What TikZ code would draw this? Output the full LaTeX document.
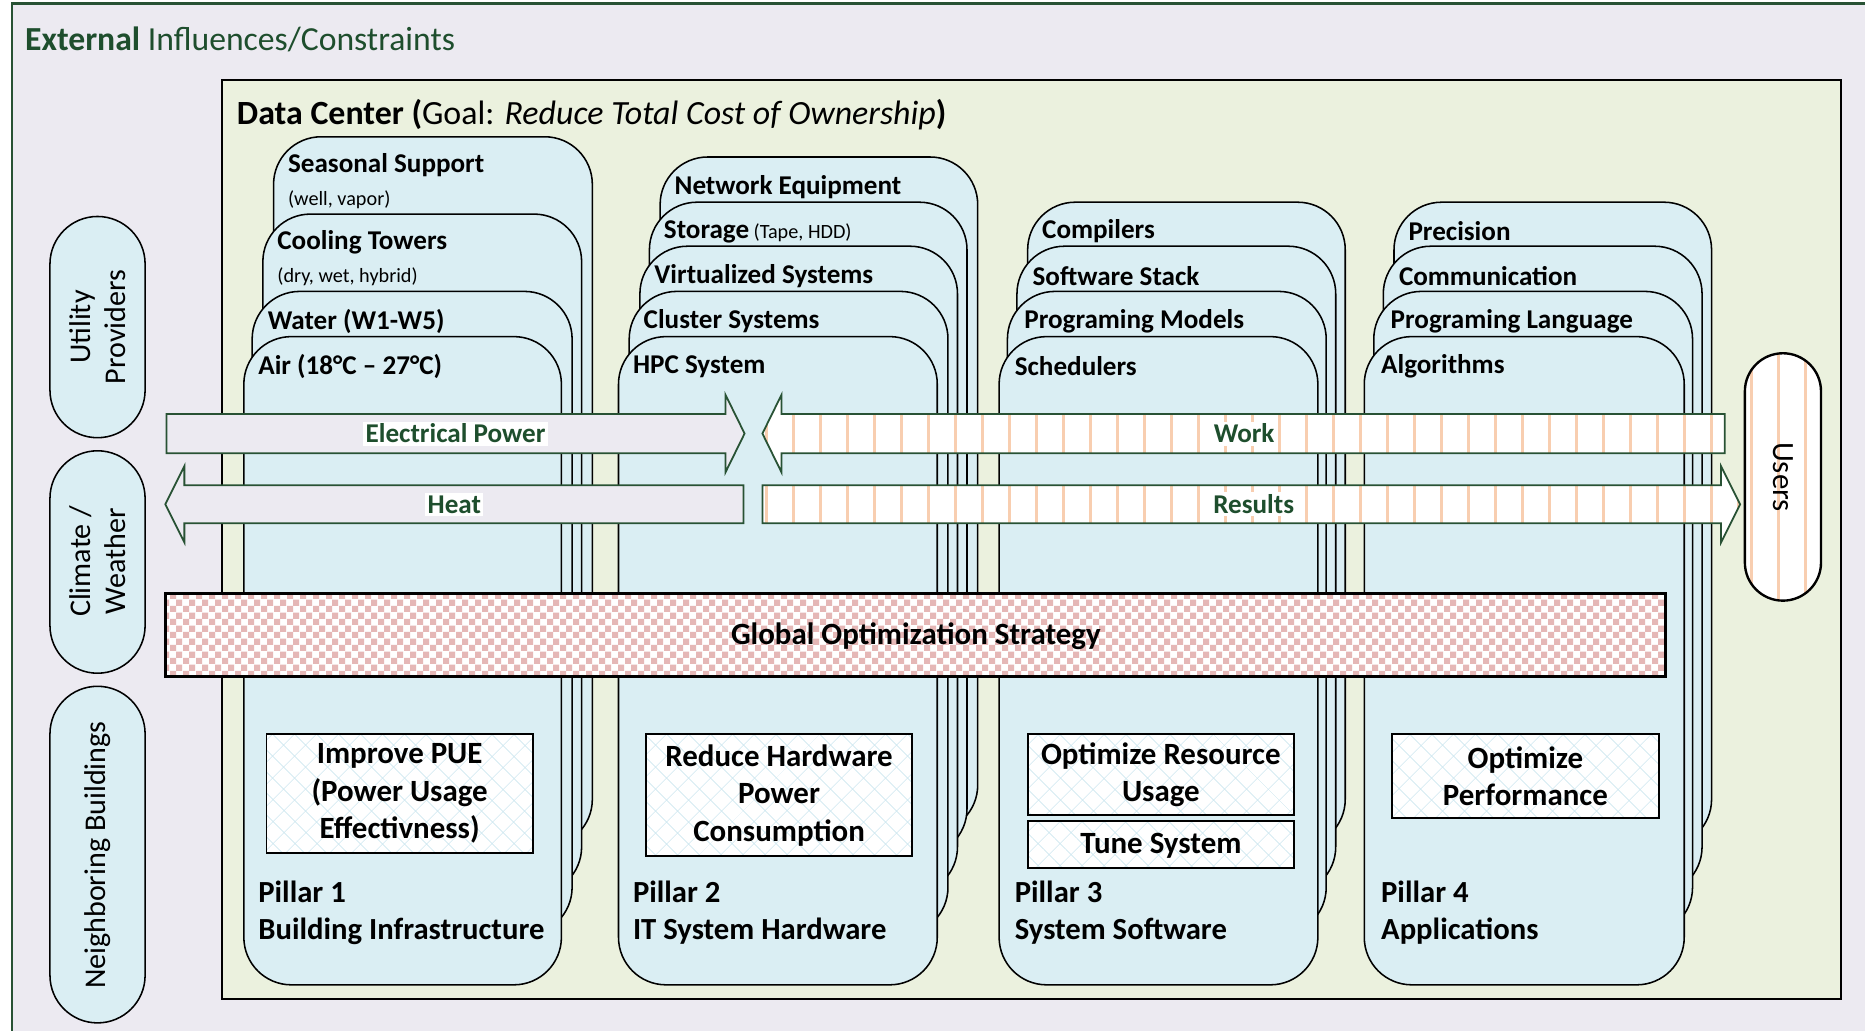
\documentclass[tikz,border=0pt]{standalone}
\usepackage{fontspec}
\setmainfont{Carlito}
\usetikzlibrary{patterns,patterns.meta}
\definecolor{bgouter}{RGB}{236,234,241}
\definecolor{framegreen}{RGB}{40,82,52}
\definecolor{txtgreen}{RGB}{30,78,45}
\definecolor{dcfill}{RGB}{235,241,222}
\definecolor{cardblue}{RGB}{218,238,243}
\definecolor{stripecol}{RGB}{248,206,176}
\definecolor{checkpink}{RGB}{229,183,182}
\definecolor{hatchblue}{RGB}{208,232,241}
\pgfdeclarepatternformonly{mychecker}{\pgfpointorigin}{\pgfqpoint{11pt}{11pt}}{\pgfqpoint{11pt}{11pt}}{%
 \pgfpathrectangle{\pgfpointorigin}{\pgfqpoint{5.5pt}{5.5pt}}%
 \pgfpathrectangle{\pgfqpoint{5.5pt}{5.5pt}}{\pgfqpoint{5.5pt}{5.5pt}}%
 \pgfusepath{fill}}
\pgfdeclarepatternformonly{mystripes}{\pgfpointorigin}{\pgfqpoint{23pt}{10pt}}{\pgfqpoint{23pt}{10pt}}{%
 \pgfpathrectangle{\pgfpointorigin}{\pgfqpoint{2.5pt}{10pt}}%
 \pgfusepath{fill}}
\tikzset{
 card/.style={draw=black, line width=1.3pt, fill=cardblue, rounded corners=40pt},
 cardtxt/.style={anchor=west, inner sep=0pt, font=\fontsize{22.8}{27}\selectfont\bfseries},
 smalltxt/.style={anchor=west, inner sep=0pt, font=\fontsize{17}{20}\selectfont},
 pillartxt/.style={anchor=west, inner sep=0pt, font=\fontsize{25.8}{30}\selectfont\bfseries},
 goalbox/.style={draw=black, line width=1.5pt, preaction={fill=white}, pattern={Hatch[angle=45,distance=13pt,line width=0.7pt]}, pattern color=hatchblue},
 goaltxt/.style={align=center, inner sep=0pt, font=\fontsize{26}{31.5}\selectfont\bfseries},
 plainarrow/.style={draw=framegreen, line width=1.5pt, fill=bgouter, line join=miter},
 stripearrow/.style={draw=framegreen, line width=1.5pt, preaction={fill=white}, pattern=mystripes, pattern color=stripecol, line join=miter},
 arrowtxt/.style={fill=white, inner sep=2pt, text=txtgreen, font=\fontsize{22.8}{27}\selectfont\bfseries},
 extnode/.style={draw=black, line width=1.3pt, fill=cardblue, rounded corners=40pt},
 exttxt/.style={rotate=90, align=center, inner sep=0pt, font=\fontsize{25.3}{29}\selectfont},
}
\begin{document}
\begin{tikzpicture}[x=1pt,y=-1pt]
\useasboundingbox (0,0) rectangle (1568,866);
\fill[white] (0,0) rectangle (1568,866);
% outer frame
\draw[framegreen, line width=2pt, fill=bgouter] (10,3) rectangle (1590,890);
\node[anchor=west, inner sep=0pt, text=txtgreen, font=\fontsize{28.3}{32}\selectfont] (ext) at (21,33) {\textbf{External} Influences/Constraints};
% data center
\draw[black, line width=1.8pt, fill=dcfill] (187,67) rectangle (1548,840);
\node[anchor=west, inner sep=0pt, font=\fontsize{28.5}{32}\selectfont] (dctitle) at (199,96) {\textbf{Data Center (}Goal: \textit{Reduce Total Cost of Ownership}\textbf{)}};
% pillar 1
\draw[card] (230,115) rectangle (498,712);
\draw[card] (221,180) rectangle (489,752);
\draw[card] (212,245) rectangle (481,786);
\draw[card] (205,283) rectangle (472,828);
\node[cardtxt] (p1a) at (242,139) {Seasonal Support};
\node[smalltxt] (p1as) at (242,168) {(well, vapor)};
\node[cardtxt] (p1b) at (233,204) {Cooling Towers};
\node[smalltxt] (p1bs) at (233,233) {(dry, wet, hybrid)};
\node[cardtxt] (p1c) at (225,270) {Water (W1-W5)};
\node[cardtxt] (p1d) at (217,308) {Air (18°C – 27°C)};
% pillar 2
\draw[card] (555,132) rectangle (822,700);
\draw[card] (546,170) rectangle (813,720);
\draw[card] (538,207) rectangle (805,752);
\draw[card] (529,245) rectangle (797,786);
\draw[card] (520,283) rectangle (788,828);
\node[cardtxt] (p2a) at (567,157) {Network Equipment};
\node[cardtxt] (p2b) at (558,195) {Storage\,{\mdseries\fontsize{17}{20}\selectfont(Tape, HDD)}};
\node[cardtxt] (p2c) at (550,232) {Virtualized Systems};
\node[cardtxt] (p2d) at (541,270) {Cluster Systems};
\node[cardtxt] (p2e) at (532,308) {HPC System};
% pillar 3
\draw[card] (864,170) rectangle (1131,712);
\draw[card] (855,207) rectangle (1123,752);
\draw[card] (847,245) rectangle (1115,786);
\draw[card] (840,283) rectangle (1108,828);
\node[cardtxt] (p3a) at (876,194) {Compilers};
\node[cardtxt] (p3b) at (868,232) {Software Stack};
\node[cardtxt] (p3c) at (861,270) {Programing Models};
\node[cardtxt] (p3d) at (853,308) {Schedulers};
% pillar 4
\draw[card] (1172,170) rectangle (1439,712);
\draw[card] (1163,207) rectangle (1431,752);
\draw[card] (1155,245) rectangle (1423,786);
\draw[card] (1147,283) rectangle (1416,828);
\node[cardtxt] (p4a) at (1184,194) {Precision};
\node[cardtxt] (p4b) at (1176,232) {Communication};
\node[cardtxt] (p4c) at (1169,270) {Programing Language};
\node[cardtxt] (p4d) at (1161,308) {Algorithms};
% external stadiums
\draw[extnode] (42,182) rectangle (122,368);
\node[exttxt] (util) at (82,275) {Utility\\Providers};
\draw[extnode] (42,379) rectangle (122,566);
\node[exttxt] (clim) at (82,472) {Climate /\\Weather};
\draw[extnode] (42,577) rectangle (122,860);
\node[exttxt] (neigh) at (82,719) {Neighboring Buildings};
% arrows
\draw[plainarrow] (140,348) -- (610,348) -- (610,332) -- (626,364.5) -- (610,397) -- (610,381) -- (140,381) -- cycle;
\node[arrowtxt] (elp) at (383,364.5) {Electrical Power};
\draw[plainarrow] (625,408) -- (155,408) -- (155,392) -- (139,424) -- (155,456) -- (155,440) -- (625,440) -- cycle;
\node[arrowtxt] (heat) at (382,424) {Heat};
\draw[stripearrow] (1450,348) -- (657,348) -- (657,332) -- (641,364.5) -- (657,397) -- (657,381) -- (1450,381) -- cycle;
\node[arrowtxt] (work) at (1046,364.5) {Work};
\draw[stripearrow] (641,408) -- (1447,408) -- (1447,392) -- (1463,424) -- (1447,456) -- (1447,440) -- (641,440) -- cycle;
\node[arrowtxt] (res) at (1054,424) {Results};
% users
\draw[line width=2pt, preaction={fill=white}, pattern=mystripes, pattern color=stripecol, rounded corners=32pt] (1467,297) rectangle (1531,505);
\node[rotate=-90, inner sep=0pt, font=\fontsize{26}{30}\selectfont] (users) at (1499,401) {Users};
% global optimization
\draw[line width=2.2pt, preaction={fill=white}, pattern=mychecker, pattern color=checkpink] (139,499) rectangle (1400,569);
\node[inner sep=0pt, font=\fontsize{26}{30}\selectfont\bfseries] (gos) at (770,535) {Global Optimization Strategy};
% goal boxes
\draw[goalbox] (224,617) rectangle (448,717);
\node[goaltxt] (g1) at (336,667) {Improve PUE\\(Power Usage\\Effectivness)};
\draw[goalbox] (543,617) rectangle (767,720);
\node[goaltxt] (g2) at (655,668.5) {Reduce Hardware\\Power\\Consumption};
\draw[goalbox] (864,617) rectangle (1088,685);
\node[goaltxt] (g3) at (976,651.5) {Optimize Resource\\Usage};
\draw[goalbox] (864,690) rectangle (1088,730);
\node[goaltxt] (g3b) at (976,711) {Tune System};
\draw[goalbox] (1170,617) rectangle (1395,688);
\node[goaltxt] (g4) at (1282.5,652.5) {Optimize\\Performance};
% pillar labels
\node[pillartxt] (l1a) at (217,750) {Pillar 1};
\node[pillartxt] (l1b) at (217,783) {Building Infrastructure};
\node[pillartxt] (l2a) at (532,750) {Pillar 2};
\node[pillartxt] (l2b) at (532,783) {IT System Hardware};
\node[pillartxt] (l3a) at (853,750) {Pillar 3};
\node[pillartxt] (l3b) at (853,783) {System Software};
\node[pillartxt] (l4a) at (1161,750) {Pillar 4};
\node[pillartxt] (l4b) at (1161,783) {Applications};
\end{tikzpicture}
\end{document}
